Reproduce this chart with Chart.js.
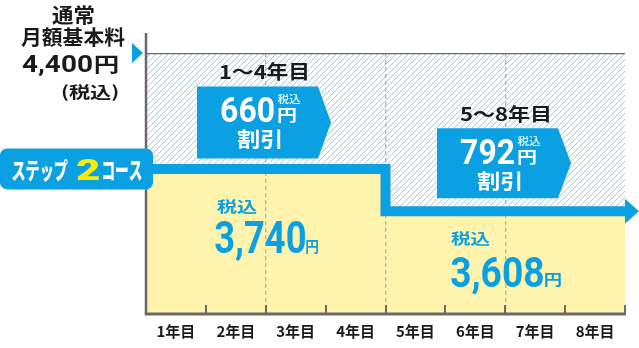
<!DOCTYPE html>
<html><head><meta charset="utf-8">
<script src="https://cdn.jsdelivr.net/npm/chart.js@4.4.0/dist/chart.umd.min.js"></script>
<style>html,body{margin:0;padding:0;background:#fff;overflow:hidden}#wrap{width:639px;height:348px}</style>
</head><body><div id="wrap"><canvas id="c" width="639" height="348"></canvas></div>
<script>
// ---- data ----
const yearLabels = ['1年目','2年目','3年目','4年目','5年目','6年目','7年目','8年目'];
const monthlyFee = [3740,3740,3740,3740,3608,3608,3608,3608];
const regularFee = 4400;
const periodLabels = ['1〜4年目','5〜8年目'];
const periodStart = [0,4];
const periodEnd = [4,8];
const periodDiscount = [660,792];
const courseParts = ['ステップ','2','コース'];
// axis break: value -> fraction of plot height (schematic, non-linear axis)
const yScaleStops = [[0,0],[3608,0.394],[3740,0.556],[4400,1]];

const BLUE = '#0aa0e2', YELLOW = '#fff3ad', AXIS = '#6a6a6a', INK = '#1a1a1a';
const JP = '"Noto Sans CJK JP","Noto Sans",sans-serif';
const NUM = 'Roboto,"Noto Sans",sans-serif';
const N = yearLabels.length;

class PiecewiseScale extends Chart.LinearScale {
  static id = 'piecewise';
  static defaults = {};
  toDecimal(v){
    const s = yScaleStops;
    if (v <= s[0][0]) return s[0][1];
    for (let i=1;i<s.length;i++){ if (v <= s[i][0]) { const [v0,d0]=s[i-1],[v1,d1]=s[i]; return d0+(v-v0)/(v1-v0)*(d1-d0);} }
    return s[s.length-1][1];
  }
  getPixelForValue(v){ if (v===null||v===undefined||isNaN(v)) return NaN; return this.getPixelForDecimal(this.toDecimal(v)); }
  getValueForPixel(p){
    const d = this.getDecimalForPixel(p), s = yScaleStops;
    for (let i=1;i<s.length;i++){ if (d <= s[i][1]) { const [v0,d0]=s[i-1],[v1,d1]=s[i]; return v0+(d-d0)/(d1-d0)*(v1-v0);} }
    return s[s.length-1][0];
  }
}
Chart.register(PiecewiseScale);

function hatchPattern(){
  const S = 6;
  const c=document.createElement('canvas'); c.width=S; c.height=S;
  const g=c.getContext('2d');
  g.fillStyle='#ffffff'; g.fillRect(0,0,S,S);
  for (let xx=0; xx<S; xx++){
    const yy = (S-1-xx);
    g.fillStyle='#9fd8f6'; g.fillRect(xx,yy,1,1);
    g.fillStyle='#e3f3fc'; g.fillRect(xx,(yy+1)%S,1,1);
  }
  return g.createPattern(c,'repeat');
}

function fitText(ctx, s, box, font, color, vref){
  const [l,t,r,b] = box;
  ctx.save();
  ctx.font = font; ctx.fillStyle = color; ctx.textAlign='left'; ctx.textBaseline='alphabetic';
  const m = ctx.measureText(s);
  const mv = vref ? ctx.measureText(vref) : m;
  const w = m.actualBoundingBoxLeft + m.actualBoundingBoxRight;
  const h = mv.actualBoundingBoxAscent + mv.actualBoundingBoxDescent;
  const sx=(r-l)/w, sy=(b-t)/h;
  ctx.translate(l + m.actualBoundingBoxLeft*sx, t + mv.actualBoundingBoxAscent*sy);
  ctx.scale(sx, sy);
  ctx.fillText(s,0,0);
  ctx.restore();
}
function rel(box, ox, oy){ return [box[0]+ox, box[1]+oy, box[2]+ox, box[3]+oy]; }

const stepData = monthlyFee.map((v,i)=>({x:i,y:v})).concat([{x:N,y:monthlyFee[N-1]}]);
const regularData = [{x:0,y:regularFee},{x:N,y:regularFee}];

// per-period text placement (relative to period centre x and step line y)
const periodLayout = [
  {label:[-45.75,-106.5,41.25,-87.5], box:[-68.75,-82.5,72], tax:[-48.75,29.5,-8.75,45.5], num:[-50.75,52.5,39.25,84.5], yen:[40.25,70.5,52.25,84.5]},
  {label:[-45.25,-106,43.75,-88], box:[-68.25,-83,70], tax:[-54.25,20,-15.25,35], num:[-54.25,46,37.75,76], yen:[39.75,62,55.75,76]}
];

const overlay = {
  id:'overlay',
  afterDatasetsDraw(chart){
    const {ctx, chartArea:a, scales:{x2,y}} = chart;
    ctx.save();
    ctx.strokeStyle = AXIS;
    ctx.lineWidth = 2.5;
    ctx.beginPath(); ctx.moveTo(a.left, a.top-20); ctx.lineTo(a.left, a.bottom); ctx.stroke();
    ctx.lineWidth = 3;
    ctx.beginPath(); ctx.moveTo(a.left-1.25, a.bottom); ctx.lineTo(a.right+1, a.bottom); ctx.stroke();
    ctx.lineWidth = 2;
    ctx.beginPath();
    for (let i=1;i<=N;i++){ const px=Math.round(x2.getPixelForValue(i)); ctx.moveTo(px, a.bottom-9); ctx.lineTo(px, a.bottom); }
    ctx.stroke();
    const meta = chart.getDatasetMeta(0); const last = meta.data[meta.data.length-1];
    ctx.fillStyle = BLUE;
    ctx.beginPath(); ctx.moveTo(last.x, last.y-12.5); ctx.lineTo(last.x+14, last.y); ctx.lineTo(last.x, last.y+12.5); ctx.closePath(); ctx.fill();
    const ry = y.getPixelForValue(regularFee);
    ctx.beginPath(); ctx.moveTo(a.left-14, ry-10); ctx.lineTo(a.left-3, ry); ctx.lineTo(a.left-14, ry+10); ctx.closePath(); ctx.fill();
    ctx.restore();
  },
  afterDraw(chart){
    const {ctx, chartArea:a, scales:{x2,y}} = chart;
    const ry = y.getPixelForValue(regularFee);
    const ox = a.left, oy = ry;
    fitText(ctx,'通常', rel([-94,-48,-52,-28],ox,oy), `bold 24px ${JP}`, INK);
    fitText(ctx,'月額基本料', rel([-125,-25,-21,-5],ox,oy), `bold 22px ${JP}`, INK);
    fitText(ctx,regularFee.toLocaleString('en-US'), rel([-124,2,-54,19],ox,oy), `bold 24px ${NUM}`, INK, '4400');
    fitText(ctx,'円', rel([-51,3,-28,22],ox,oy), `bold 21px ${JP}`, INK);
    fitText(ctx,'(税込)', rel([-84,30,-28,48],ox,oy), `bold 19px ${JP}`, INK);

    const ly0 = y.getPixelForValue(monthlyFee[0]);
    ctx.save();
    ctx.fillStyle = BLUE;
    ctx.beginPath(); ctx.roundRect(0, ly0-20.5, 153, 41, 7); ctx.fill();
    ctx.restore();
    fitText(ctx, courseParts[0], [12, ly0-10, 68, ly0+12.5], `900 26px ${JP}`, '#fff');
    fitText(ctx, courseParts[1], [76, ly0-10, 100, ly0+11], `900 28px ${NUM}`, '#ffeb00');
    fitText(ctx, courseParts[2], [103, ly0-9.5, 142, ly0+12], `900 26px ${JP}`, '#fff');

    periodLabels.forEach((lab,p)=>{
      const L = periodLayout[p];
      const cx = x2.getPixelForValue((periodStart[p]+periodEnd[p])/2);
      const fee = monthlyFee[periodStart[p]];
      const ly = y.getPixelForValue(fee);
      fitText(ctx, lab, rel(L.label,cx,ly), `bold 21px ${JP}`, INK);
      const bl = cx + L.box[0], bt = ly + L.box[1], bh = L.box[2];
      ctx.save(); ctx.fillStyle = BLUE;
      ctx.beginPath(); ctx.moveTo(bl,bt); ctx.lineTo(bl+121,bt); ctx.lineTo(bl+134,bt+bh/2); ctx.lineTo(bl+121,bt+bh); ctx.lineTo(bl,bt+bh); ctx.closePath(); ctx.fill();
      ctx.restore();
      const num = String(periodDiscount[p]);
      fitText(ctx, num, rel([24,11,77,35.5],bl,bt), `bold 35px ${NUM}`, '#fff');
      fitText(ctx, '税込', rel([80.5,8,103.5,18.5],bl,bt), `500 12px ${JP}`, '#fff');
      fitText(ctx, '円', rel([81,21,99,36.5],bl,bt), `bold 20px ${JP}`, '#fff');
      fitText(ctx, '割引', rel([40,42.5,83.5,63],bl,bt), `bold 24px ${JP}`, '#fff');
      fitText(ctx, '税込', rel(L.tax,cx,ly), `bold 18px ${JP}`, BLUE);
      const ps = fee.toLocaleString('en-US');
      fitText(ctx, ps, rel(L.num,cx,ly), `bold 45px ${NUM}`, BLUE, ps.replace(',',''));
      fitText(ctx, '円', rel(L.yen,cx,ly), `bold 16px ${JP}`, BLUE);
    });
  }
};

new Chart(document.getElementById('c'), {
  type:'line',
  data:{
    labels: yearLabels,
    datasets:[
      {label:'ステップ2コース', data: stepData, xAxisID:'x2', yAxisID:'y', stepped:true,
       borderColor: BLUE, borderWidth: 10, backgroundColor: YELLOW, fill:'start',
       pointRadius:0, borderJoinStyle:'miter', borderCapStyle:'butt'},
      {label:'通常月額基本料', data: regularData, xAxisID:'x2', yAxisID:'y',
       borderColor:'#6d6d6d', borderWidth:2.5, backgroundColor: hatchPattern(), fill:'start', pointRadius:0}
    ]
  },
  options:{
    responsive:false, animation:false, events:[],
    layout:{padding:{left:146,right:14,top:53,bottom:0}},
    plugins:{legend:{display:false}, tooltip:{enabled:false}, filler:{drawTime:'beforeDraw'}},
    scales:{
      x:{type:'category', offset:true,
         grid:{offset:true, drawTicks:false, lineWidth:1.3,
               color: c => (c.index!==undefined && c.index>0 && c.index%2===0) ? '#b3b3b3' : 'rgba(0,0,0,0)'},
         border:{display:false, dash:[4,3]},
         ticks:{color:INK, padding:8, maxRotation:0, autoSkip:false, font:{family:JP, size:15, weight:'bold'}}},
      x2:{type:'linear', min:0, max:N, display:false},
      y:{type:'piecewise', min:0, max:regularFee, display:false}
    }
  },
  plugins:[overlay]
});
</script></body></html>
